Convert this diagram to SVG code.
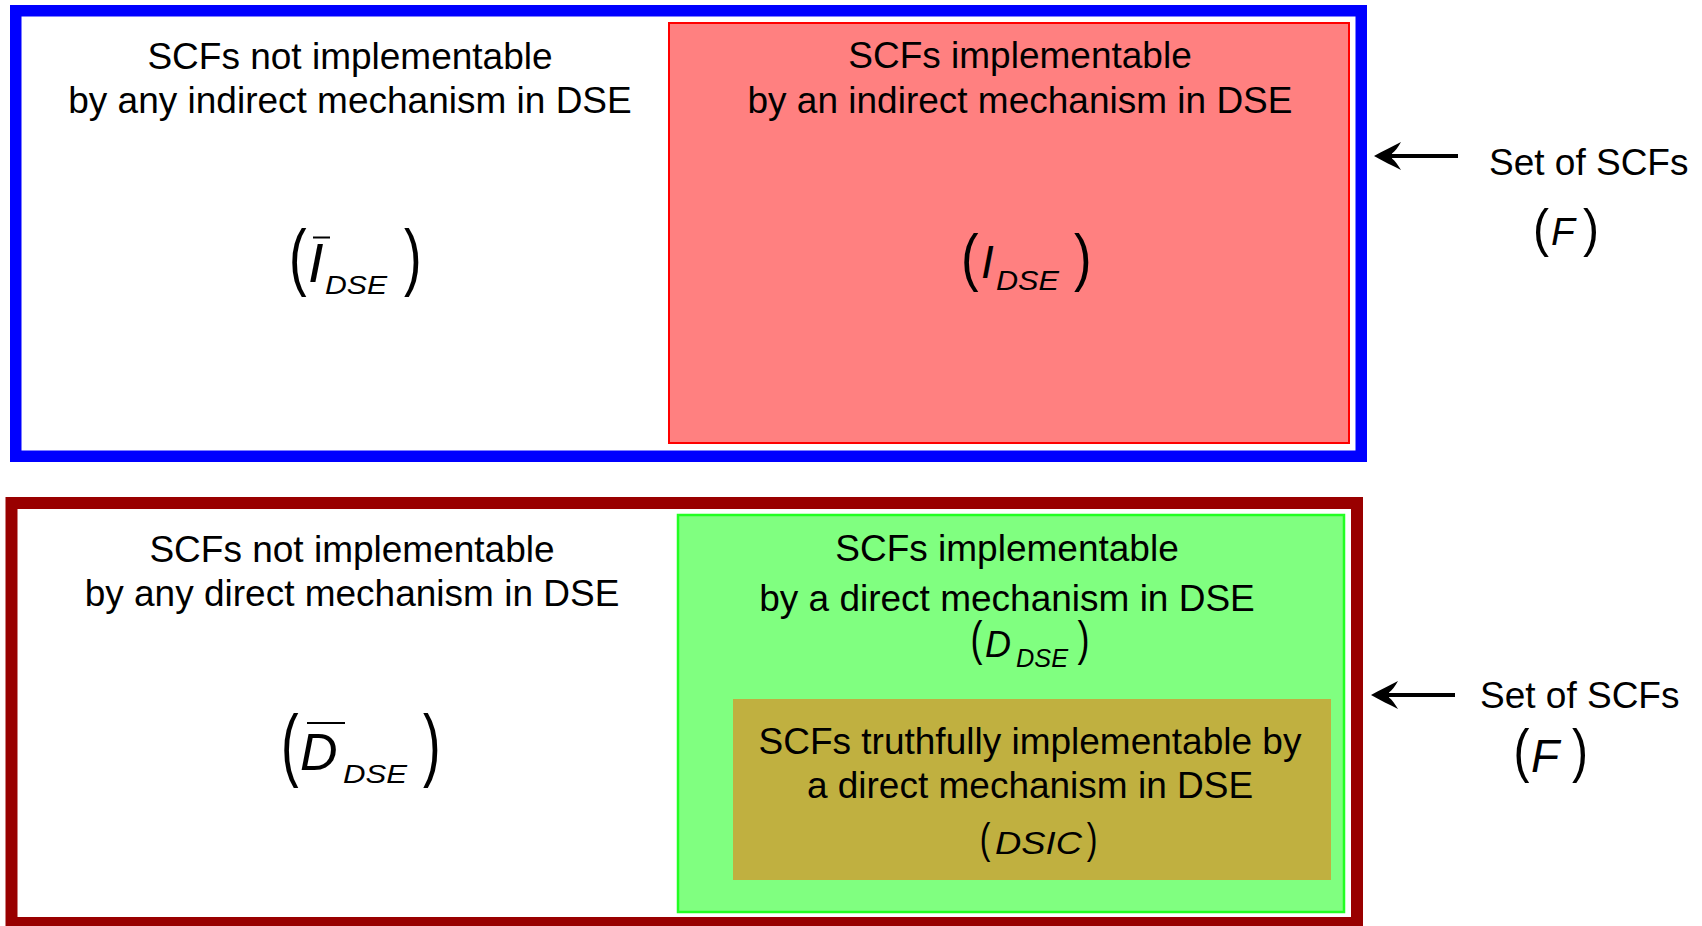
<svg xmlns="http://www.w3.org/2000/svg" width="1702" height="926" viewBox="0 0 1702 926">
<style>
  .t { font-family: "Liberation Sans", Arial, sans-serif; font-size: 37px; fill: #000; }
  .m { font-family: "Liberation Sans", Arial, sans-serif; font-style: italic; fill: #000; }
  .p { font-family: "Liberation Sans", Arial, sans-serif; fill: #000; }
  .bar { stroke: #000; stroke-width: 2; }
  .conn { stroke: #000; stroke-width: 4; fill: none; marker-end: url(#arrow); }
</style>
<defs>
  <marker id="arrow" markerUnits="userSpaceOnUse" viewBox="0 0 30 28" markerWidth="30" markerHeight="28" refX="18" refY="14" orient="auto">
    <path d="M29,14 C20,9 10,4 2,0 C5,5 8,9.5 11,11.5 L11,16.5 C8,18.5 5,23 2,28 C10,24 20,19 29,14 Z" fill="#000"/>
  </marker>
</defs>
<rect width="1702" height="926" fill="#fff"/>

<g id="top-set">
  <rect x="15.75" y="10.75" width="1345.5" height="445.5" fill="#fff" stroke="#0000FF" stroke-width="11.5"/>
</g>
<g id="top-not-impl">
  <text class="t" x="350" y="69" text-anchor="middle">SCFs not implementable</text>
  <text class="t" x="350" y="113" text-anchor="middle">by any indirect mechanism in DSE</text>
  <text class="p" font-size="44" transform="translate(289,282.3) scale(1.2,1.7)">(</text>
  <text class="m" font-size="56" x="308" y="282">I</text>
  <line class="bar" x1="313" y1="237.5" x2="330" y2="237.5"/>
  <text class="m" font-size="25" x="325" y="294" textLength="62" lengthAdjust="spacingAndGlyphs">DSE</text>
  <text class="p" font-size="44" transform="translate(404,282.3) scale(1.2,1.7)">)</text>
</g>
<g id="top-impl">
  <rect x="669" y="23" width="680" height="420" fill="#FF8080" stroke="#FF0000" stroke-width="2"/>
  <text class="t" x="1020" y="68" text-anchor="middle">SCFs implementable</text>
  <text class="t" x="1020" y="113" text-anchor="middle">by an indirect mechanism in DSE</text>
  <text class="p" font-size="44" transform="translate(961,278.6) scale(1.2,1.45)">(</text>
  <text class="m" font-size="46" x="981" y="278">I</text>
  <text class="m" font-size="28" x="996" y="290" textLength="63" lengthAdjust="spacingAndGlyphs">DSE</text>
  <text class="p" font-size="44" transform="translate(1074,278.6) scale(1.2,1.45)">)</text>
</g>
<g id="top-label">
  <text class="t" x="1489" y="175">Set of SCFs</text>
  <text class="p" font-size="40" transform="translate(1533,246) scale(1.2,1.31)">(</text>
  <text class="m" font-size="39" x="1551" y="245">F</text>
  <text class="p" font-size="40" transform="translate(1583,246) scale(1.2,1.31)">)</text>
</g>

<g id="bottom-set">
  <rect x="11.5" y="503" width="1345.5" height="420" fill="#fff" stroke="#990000" stroke-width="12"/>
</g>
<g id="bottom-not-impl">
  <text class="t" x="352" y="562" text-anchor="middle">SCFs not implementable</text>
  <text class="t" x="352" y="606" text-anchor="middle">by any direct mechanism in DSE</text>
  <text class="p" font-size="44" transform="translate(281,770.5) scale(1.2,1.79)">(</text>
  <text class="m" font-size="52" x="300" y="770">D</text>
  <line class="bar" x1="307" y1="723" x2="345" y2="723"/>
  <text class="m" font-size="25" x="343" y="783" textLength="64" lengthAdjust="spacingAndGlyphs">DSE</text>
  <text class="p" font-size="44" transform="translate(423,770.5) scale(1.2,1.79)">)</text>
</g>
<g id="bottom-impl">
  <rect x="678" y="515" width="666" height="397" fill="#80FF80" stroke="#22FF22" stroke-width="2.5"/>
  <text class="t" x="1007" y="561" text-anchor="middle">SCFs implementable</text>
  <text class="t" x="1007" y="611" text-anchor="middle">by a direct mechanism in DSE</text>
  <text class="p" font-size="36" transform="translate(970.5,655) scale(1,1.33)">(</text>
  <text class="m" font-size="36" x="985" y="657">D</text>
  <text class="m" font-size="25" x="1016" y="667" textLength="52" lengthAdjust="spacingAndGlyphs">DSE</text>
  <text class="p" font-size="36" transform="translate(1077.6,655) scale(1,1.33)">)</text>
</g>
<g id="dsic">
  <rect x="733" y="699" width="598" height="181" fill="#C0B040"/>
  <text class="t" x="1030" y="754" text-anchor="middle">SCFs truthfully implementable by</text>
  <text class="t" x="1030" y="798" text-anchor="middle">a direct mechanism in DSE</text>
  <text class="p" font-size="32" transform="translate(979.8,853.3) scale(1,1.3)">(</text>
  <text class="m" font-size="31" x="995" y="854" textLength="87" lengthAdjust="spacingAndGlyphs">DSIC</text>
  <text class="p" font-size="32" transform="translate(1086.7,853.3) scale(1,1.3)">)</text>
</g>
<g id="bottom-label">
  <text class="t" x="1480" y="708">Set of SCFs</text>
  <text class="p" font-size="40" transform="translate(1513.6,770.7) scale(1.2,1.47)">(</text>
  <text class="m" font-size="46" x="1531" y="772">F</text>
  <text class="p" font-size="40" transform="translate(1572,770.7) scale(1.2,1.47)">)</text>
</g>

<g id="connectors">
  <line class="conn" x1="1458" y1="156" x2="1385" y2="156"/>
  <line class="conn" x1="1455" y1="695" x2="1382" y2="695"/>
</g>
</svg>
